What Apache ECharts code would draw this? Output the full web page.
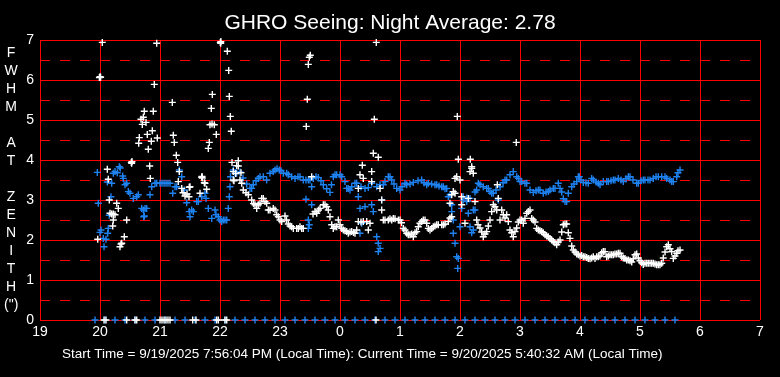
<!DOCTYPE html>
<html>
<head>
<meta charset="utf-8">
<script src="https://cdn.jsdelivr.net/npm/echarts@6/dist/echarts.min.js"></script>
<style>
html,body{margin:0;padding:0;background:#000;}
#chart{width:780px;height:377px;}
</style>
</head>
<body>
<div id="chart"></div>
<script>
// ---- data (hours since midnight of 9/19, values in arcsec FWHM) ----
const titleText = 'GHRO Seeing: Night Average: 2.78';
const footerText = 'Start Time = 9/19/2025 7:56:04 PM (Local Time): Current Time = 9/20/2025 5:40:32 AM (Local Time)';
const yAxisTitle = ['F','W','H','M','','A','T','','Z','E','N','I','T','H','(")'];
const xTickLabels = ['19','20','21','22','23','0','1','2','3','4','5','6','7'];

const blueCurve = [[19.955,3.69],[19.972,2.92],[20.000,2.19],[20.017,2.25],[20.055,2.04],[20.067,1.83],[20.100,2.02],[20.122,3.45],[20.128,2.17],[20.138,2.29],[20.155,2.62],[20.183,3.08],[20.195,3.42],[20.222,3.67],[20.250,3.71],[20.288,3.68],[20.322,3.83],[20.338,3.80],[20.378,3.60],[20.388,3.54],[20.417,3.38],[20.445,3.42],[20.472,3.21],[20.500,3.17],[20.555,3.04],[20.612,3.08],[20.638,3.13],[20.695,2.79],[20.722,2.75],[20.730,2.58],[20.738,2.60],[20.750,2.79],[20.778,2.79],[20.833,3.13],[20.862,3.33],[20.917,3.42],[20.945,3.42],[21.000,3.42],[21.033,3.42],[21.067,3.42],[21.100,3.42],[21.133,3.42],[21.167,3.42],[21.212,3.17],[21.250,3.33],[21.278,3.33],[21.322,3.75],[21.362,3.58],[21.405,3.25],[21.445,2.93],[21.488,2.71],[21.500,2.58],[21.528,2.75],[21.555,2.71],[21.612,2.96],[21.638,2.96],[21.695,3.08],[21.750,3.17],[21.767,3.04],[21.805,2.79],[21.862,2.54],[21.917,2.75],[21.933,2.63],[21.972,2.58],[22.000,2.50],[22.028,2.46],[22.055,2.50],[22.083,2.50],[22.112,2.50],[22.138,2.79],[22.155,3.08],[22.167,3.33],[22.175,3.58],[22.222,3.75],[22.250,3.67],[22.278,3.67],[22.333,3.70],[22.383,3.55],[22.445,3.40],[22.500,3.29],[22.528,3.29],[22.555,3.38],[22.600,3.48],[22.638,3.54],[22.667,3.58],[22.722,3.58],[22.778,3.50],[22.833,3.67],[22.888,3.71],[22.917,3.75],[22.950,3.78],[22.988,3.75],[23.017,3.73],[23.055,3.67],[23.112,3.67],[23.138,3.63],[23.195,3.58],[23.250,3.54],[23.300,3.58],[23.333,3.58],[23.388,3.50],[23.433,3.50],[23.472,3.50],[23.500,3.50],[23.555,3.54],[23.600,3.58],[23.638,3.56],[23.683,3.48],[23.722,3.38],[23.778,3.28],[23.833,3.19],[23.858,3.38],[23.888,3.58],[23.917,3.63],[23.945,3.63],[24.000,3.63],[24.028,3.58],[24.083,3.46],[24.112,3.29],[24.138,3.29],[24.167,3.25],[24.195,3.33],[24.250,3.42],[24.278,3.42],[24.350,3.33],[24.417,3.29],[24.472,3.31],[24.528,3.42],[24.612,3.33],[24.667,3.38],[24.722,3.38],[24.750,3.46],[24.805,3.58],[24.833,3.58],[24.862,3.50],[24.900,3.40],[24.945,3.29],[25.000,3.25],[25.033,3.33],[25.083,3.42],[25.112,3.38],[25.167,3.40],[25.222,3.44],[25.300,3.48],[25.362,3.50],[25.400,3.43],[25.445,3.38],[25.472,3.42],[25.528,3.40],[25.583,3.38],[25.612,3.38],[25.650,3.35],[25.695,3.33],[25.722,3.33],[25.750,3.28],[25.778,3.29],[26.055,3.08],[26.112,3.05],[26.167,3.04],[26.250,3.20],[26.305,3.42],[26.333,3.38],[26.388,3.33],[26.445,3.29],[26.472,3.29],[26.500,3.21],[26.528,3.17],[26.555,3.17],[26.600,3.25],[26.667,3.33],[26.717,3.43],[26.750,3.50],[26.778,3.50],[26.833,3.63],[26.888,3.71],[26.945,3.58],[26.972,3.54],[27.000,3.46],[27.028,3.46],[27.083,3.42],[27.112,3.42],[27.167,3.25],[27.222,3.19],[27.267,3.23],[27.305,3.25],[27.333,3.25],[27.388,3.17],[27.433,3.20],[27.472,3.21],[27.500,3.25],[27.555,3.29],[27.583,3.29],[27.638,3.42],[27.667,3.29],[27.695,3.20],[27.722,3.03],[27.750,2.96],[27.778,2.96],[27.805,3.17],[27.862,3.33],[27.900,3.40],[27.945,3.46],[27.972,3.58],[27.988,3.58],[28.017,3.50],[28.055,3.44],[28.100,3.43],[28.138,3.42],[28.195,3.54],[28.222,3.50],[28.267,3.45],[28.305,3.42],[28.333,3.38],[28.388,3.46],[28.445,3.46],[28.472,3.46],[28.517,3.48],[28.555,3.50],[28.583,3.50],[28.638,3.54],[28.683,3.50],[28.722,3.46],[28.767,3.53],[28.805,3.58],[28.833,3.58],[28.883,3.50],[28.945,3.42],[28.972,3.42],[29.017,3.48],[29.055,3.50],[29.083,3.50],[29.133,3.50],[29.167,3.50],[29.222,3.54],[29.267,3.58],[29.305,3.58],[29.362,3.58],[29.417,3.58],[29.445,3.54],[29.500,3.50],[29.528,3.46],[29.555,3.46],[29.612,3.58],[29.633,3.68],[29.667,3.75]];

const blueScatter = [[23.433,3.02],[23.528,3.33],[23.528,2.88],[23.472,2.50],[23.488,2.38],[23.472,2.29],[24.305,3.08],[24.333,2.79],[24.417,2.83],[24.528,2.88],[24.555,2.71],[24.362,2.42],[24.333,2.17],[24.612,2.08],[24.638,1.92],[24.667,1.79],[24.638,1.71],[24.695,3.00],[25.805,3.08],[25.833,3.13],[25.862,2.88],[25.862,2.71],[25.888,2.50],[25.888,2.17],[25.917,1.92],[25.945,1.58],[25.972,1.54],[25.962,1.29],[26.000,2.33],[26.028,2.79],[26.055,3.00],[26.112,2.96],[26.138,2.67],[26.167,2.33],[26.195,2.18],[26.222,2.75],[26.250,2.75],[26.278,3.25],[26.222,2.25],[26.638,3.00]];

const blueZero = [19.917,20.083,20.250,20.417,20.583,20.750,20.917,21.083,21.250,21.417,21.583,21.750,21.917,22.083,22.250,22.417,22.583,22.750,22.917,23.083,23.250,23.417,23.583,23.750,23.917,24.083,24.250,24.417,24.583,24.750,24.917,25.083,25.250,25.417,25.583,25.750,25.917,26.083,26.250,26.417,26.583,26.750,26.917,27.083,27.250,27.417,27.583,27.750,27.917,28.083,28.250,28.417,28.583,28.750,28.917,29.083,29.250,29.417,29.583];

const whiteCurve = [[19.962,2.02],[20.155,3.00],[20.167,2.67],[20.195,2.65],[20.222,2.65],[20.250,2.63],[20.278,2.92],[20.305,2.79],[20.222,2.50],[20.212,2.35],[20.445,2.50],[20.405,2.08],[20.362,1.92],[20.350,1.90],[20.333,1.83],
[22.222,3.50],[22.305,3.85],[22.362,3.42],[22.388,3.25],[22.433,3.18],[22.472,3.13],[22.528,3.00],[22.558,2.91],[22.583,2.88],[22.612,2.79],[22.638,2.88],[22.667,2.92],[22.695,3.04],[22.722,3.04],[22.750,2.96],[22.778,2.92],[22.805,2.75],[22.833,2.75],[22.888,2.79],[22.917,2.75],[22.945,2.63],[22.972,2.58],[23.000,2.50],[23.028,2.46],[23.083,2.60],[23.108,2.50],[23.138,2.40],[23.167,2.35],[23.195,2.33],[23.222,2.29],[23.278,2.29],[23.305,2.29],[23.333,2.33],[23.362,2.29],[23.388,2.29],
[23.550,2.65],[23.583,2.71],[23.612,2.67],[23.642,2.75],[23.667,2.79],[23.722,2.88],[23.750,2.88],[23.778,2.83],[23.805,2.75],[23.833,2.58],[23.862,2.38],[23.888,2.29],[23.917,2.33],[23.945,2.33],[23.972,2.50],[24.000,2.38],[24.028,2.29],[24.055,2.25],[24.083,2.23],[24.112,2.21],[24.138,2.17],[24.167,2.20],[24.195,2.21],[24.225,2.19],[24.250,2.17],[24.278,2.25],[24.305,2.46],[24.350,2.45],[24.388,2.46],[24.445,2.46],[24.472,2.25],[24.500,2.42],
[24.722,2.50],[24.750,2.50],[24.805,2.50],[24.833,2.53],[24.862,2.50],[24.888,2.54],[24.917,2.53],[24.972,2.50],[25.000,2.50],[25.025,2.43],[25.055,2.29],[25.083,2.25],[25.112,2.17],[25.138,2.13],[25.167,2.13],[25.195,2.15],[25.222,2.08],[25.250,2.18],[25.278,2.21],[25.305,2.33],[25.333,2.42],[25.362,2.46],[25.388,2.50],[25.417,2.50],[25.445,2.42],[25.472,2.29],[25.500,2.25],[25.528,2.29],[25.555,2.33],[25.583,2.35],[25.612,2.38],[25.638,2.38],[25.695,2.38],[25.722,2.38],[25.750,2.40],[25.805,2.46],[25.833,2.55],[25.862,2.58],
[26.278,2.50],[26.300,2.38],[26.333,2.30],[26.362,2.20],[26.388,2.08],[26.417,2.15],[26.445,2.21],[26.472,2.35],[26.500,2.50],[26.528,2.71],[26.555,2.88],[26.583,2.83],[26.612,2.75],[26.638,3.04],[26.667,2.50],[26.695,2.75],[26.722,2.63],[26.750,2.55],[26.778,2.63],[26.805,2.46],[26.833,2.25],[26.862,2.18],[26.888,2.08],[26.917,2.21],[26.945,2.30],[26.972,2.45],[27.000,2.50],[27.028,2.50],[27.055,2.42],[27.083,2.54],[27.112,2.67],[27.138,2.71],[27.167,2.75],[27.195,2.54],[27.222,2.50],[27.250,2.45],[27.278,2.29],[27.305,2.25],[27.333,2.23],[27.362,2.21],[27.388,2.18],[27.417,2.13],[27.445,2.10],[27.472,2.08],[27.500,2.04],[27.528,2.00],[27.555,1.96],[27.583,1.93],[27.612,1.88],[27.638,1.95],[27.667,2.00],[27.695,2.20],[27.722,2.38],[27.750,2.40],[27.778,2.40],[27.805,2.18],[27.833,2.04],[27.862,1.85],[27.888,1.75],[27.917,1.70],[27.945,1.65],[27.972,1.63],[28.000,1.60],[28.028,1.61],[28.055,1.58],[28.083,1.58],[28.112,1.56],[28.138,1.54],[28.167,1.53],[28.195,1.55],[28.222,1.58],[28.250,1.54],[28.278,1.58],[28.305,1.58],[28.333,1.60],[28.362,1.68],[28.388,1.71],[28.417,1.71],[28.445,1.58],[28.472,1.60],[28.500,1.63],[28.528,1.63],[28.555,1.63],[28.583,1.65],[28.612,1.65],[28.638,1.67],[28.667,1.67],[28.695,1.58],[28.722,1.55],[28.750,1.54],[28.778,1.50],[28.805,1.50],[28.833,1.48],[28.862,1.45],[28.888,1.53],[28.917,1.63],[28.945,1.65],[28.972,1.55],[29.000,1.48],[29.028,1.43],[29.055,1.39],[29.083,1.42],[29.112,1.42],[29.138,1.42],[29.167,1.42],[29.195,1.42],[29.222,1.42],[29.250,1.40],[29.278,1.38],[29.305,1.38],[29.333,1.38],[29.362,1.42],[29.388,1.55],[29.417,1.70],[29.445,1.83],[29.472,1.88],[29.500,1.78],[29.528,1.71],[29.555,1.54],[29.583,1.60],[29.612,1.67],[29.633,1.73],[29.667,1.75]];

const whiteScatter = [[20.038,6.94],[20.945,6.92],[22.005,6.94],[22.015,6.96],[22.012,6.92],[20.000,6.08],[19.990,6.06],[20.010,6.07],[20.905,5.89],[21.205,5.44],[21.872,5.64],[21.855,5.29],[22.122,6.72],[22.145,6.24],[22.155,5.59],[22.172,5.09],[22.188,4.72],[20.738,5.22],[20.888,5.22],[20.722,5.07],[20.683,5.02],[20.767,4.94],[20.705,4.89],[20.872,4.73],[20.788,4.64],[20.655,4.56],[20.955,4.55],[20.855,4.47],[20.645,4.42],[20.805,4.27],[21.222,4.62],[21.238,4.44],[21.272,4.12],[21.295,3.94],[20.828,3.85],[20.838,3.54],[20.122,3.77],[20.138,3.52],[20.522,3.94],[20.533,3.96],[20.528,3.92],[21.833,4.88],[21.905,4.88],[21.867,4.90],[21.938,4.64],[21.822,4.44],[21.805,4.29],[21.695,3.57],[21.705,3.55],[21.700,3.59],[21.738,3.43],[21.488,3.32],[22.200,3.94],[22.305,3.98],[22.278,3.86],[22.222,3.71],[22.262,3.66],[22.350,3.68],[22.333,3.50],[22.233,3.48],[21.322,3.71],[21.305,3.46],[21.362,3.29],[21.383,3.18],[21.417,3.10],[21.450,3.15],[21.483,3.08],[21.500,3.33],[21.750,3.42],[21.778,3.27],[21.667,3.17],[23.505,6.62],[23.488,6.57],[23.472,6.39],[23.455,5.52],[23.438,4.84],[23.528,3.58],[24.605,6.94],[24.572,5.02],[24.555,4.17],[24.638,4.07],[24.372,3.87],[24.333,3.63],[24.388,3.54],[24.528,3.71],[24.528,3.46],[24.305,3.29],[24.667,3.29],[24.695,3.00],[24.695,2.75],[25.955,5.09],[25.972,4.02],[26.172,4.02],[26.195,3.83],[26.938,4.44],[25.833,2.92],[25.862,3.13],[25.888,3.21],[25.917,3.54],[25.917,3.17],[25.945,3.58],[26.000,3.50],[26.028,3.08],[26.028,2.88],[26.083,2.42],[26.138,3.04],[26.167,3.71],[26.195,3.79],[26.222,3.67],[26.250,2.96],[26.622,3.38]];

const whiteZero = [20.067,20.100,20.445,20.583,20.612,21.000,21.033,21.067,21.100,21.133,21.167,21.545,21.600,21.945,21.972,22.083,22.112,24.600];

// ---- chart ----
const plusPath = 'path://M2.8,0h1.4v2.8h2.8v1.4h-2.8v2.8h-1.4v-2.8h-2.8v-1.4h2.8z';
const FONT = '"Liberation Sans", Arial, sans-serif';
const chart = echarts.init(document.getElementById('chart'), null, {renderer: 'canvas'});

function mkSeries(data, color) {
  return {
    type: 'scatter', data: data, symbol: plusPath, symbolSize: 7,
    itemStyle: {color: color, opacity: 1}, clip: false, silent: true,
    emphasis: {disabled: true}
  };
}

chart.setOption({
  backgroundColor: '#000000',
  animation: false,
  title: {
    text: titleText, left: 'center', top: 8,
    textStyle: {color: '#ffffff', fontSize: 21, fontWeight: 'normal', fontFamily: FONT}
  },
  grid: {left: 40, right: 20, top: 40, bottom: 57, containLabel: false},
  xAxis: {
    type: 'value', min: 19, max: 31, interval: 1,
    axisLine: {show: false}, axisTick: {show: false},
    axisLabel: {color: '#ffffff', fontSize: 14, fontFamily: FONT, margin: 5,
      formatter: v => xTickLabels[Math.round(v) - 19]},
    splitLine: {show: true, showMinLine: true, showMaxLine: true, lineStyle: {color: '#ff0000', width: 1}}
  },
  yAxis: {
    type: 'value', min: 0, max: 7, interval: 1,
    axisLine: {show: false}, axisTick: {show: false},
    axisLabel: {color: '#ffffff', fontSize: 14, fontFamily: FONT, margin: 6},
    splitLine: {show: true, showMinLine: true, showMaxLine: true, lineStyle: {color: '#ff0000', width: 1}},
    minorTick: {show: false, splitNumber: 2},
    minorSplitLine: {show: true, lineStyle: {color: '#ff0000', width: 1, type: [10, 10]}}
  },
  graphic: [
    {type: 'text', left: 4, top: 44, style: {
      text: yAxisTitle.join('\n'), fill: '#ffffff', font: '14px ' + FONT,
      lineHeight: 18, textAlign: 'center', width: 14}},
    {type: 'text', left: 62, top: 347, style: {
      text: footerText, fill: '#ffffff', font: '13.5px ' + FONT}}
  ],
  series: [
    mkSeries(blueZero.map(h => [h, 0]), '#1e82f0'),
    mkSeries(blueCurve, '#1e82f0'),
    mkSeries(blueScatter, '#1e82f0'),
    mkSeries(whiteZero.map(h => [h, 0]), '#ffffff'),
    mkSeries(whiteCurve, '#ffffff'),
    mkSeries(whiteScatter, '#ffffff')
  ]
});
</script>
</body>
</html>
